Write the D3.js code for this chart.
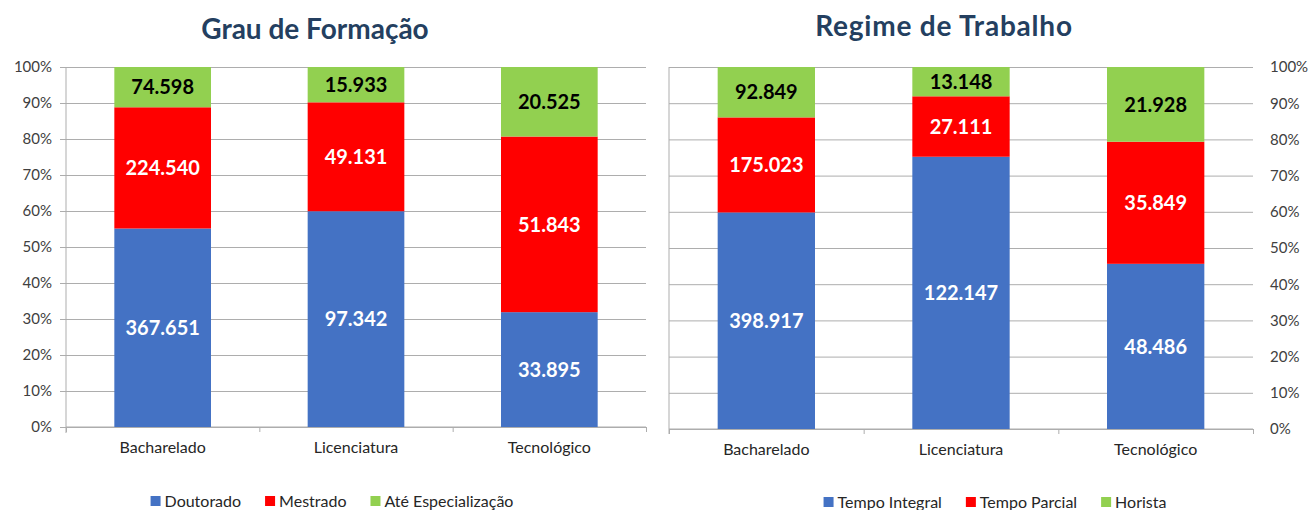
<!DOCTYPE html>
<html>
<head>
<meta charset="utf-8">
<script src="https://cdn.jsdelivr.net/npm/d3@7"></script>
<style>
  html, body { margin: 0; padding: 0; background: #fff; }
  svg { display: block; font-family: Lato, "Open Sans", sans-serif; }
</style>
</head>
<body>
<svg id="chart" width="1314" height="510"></svg>
<script>
// ---- Data ----
const categories = ["Bacharelado", "Licenciatura", "Tecnológico"];
const tickValues = [0, 0.1, 0.2, 0.3, 0.4, 0.5, 0.6, 0.7, 0.8, 0.9, 1.0];

// Grau de Formação
const formacaoTitle = "Grau de Formação";
const formacaoSeries = ["Doutorado", "Mestrado", "Até Especialização"];
const doutorado = [367651, 97342, 33895];
const mestrado = [224540, 49131, 51843];
const ateEspecializacao = [74598, 15933, 20525];

// Regime de Trabalho
const regimeTitle = "Regime de Trabalho";
const regimeSeries = ["Tempo Integral", "Tempo Parcial", "Horista"];
const tempoIntegral = [398917, 122147, 48486];
const tempoParcial = [175023, 27111, 35849];
const horista = [92849, 13148, 21928];

const colors = ["#4472C4", "#FF0000", "#92D050"];
const labelColors = ["#ffffff", "#ffffff", "#000000"];

const locale = d3.formatLocale({decimal: ",", thousands: ".", grouping: [3], currency: ["R$", ""]});
const fmt = locale.format(",d");
const pct = d3.format(".0%");

const svg = d3.select("#chart");

function drawPanel(cfg) {
  const {title, seriesNames, values, x0, x1, yTop, yBottom, axisSide, titleX, titleY, titleSpacing, catY, legendX, legendY} = cfg;
  const g = svg.append("g");

  const rows = categories.map((c, i) => {
    const r = {cat: c};
    seriesNames.forEach((s, j) => r[s] = values[j][i]);
    return r;
  });
  const stacked = d3.stack().keys(seriesNames).offset(d3.stackOffsetExpand)(rows);

  const x = d3.scaleBand().domain(categories).range([x0, x1]).paddingInner(0.5).paddingOuter(0.25);
  const y = d3.scaleLinear().domain([0, 1]).range([yBottom, yTop]);
  const width = x1 - x0;

  // gridlines
  const grid = g.append("g")
    .attr("transform", `translate(${axisSide === "left" ? x0 : x1},0)`)
    .call((axisSide === "left" ? d3.axisLeft(y) : d3.axisRight(y)).tickValues(tickValues).tickSize(-width).tickFormat(""));
  grid.select(".domain").remove();
  grid.selectAll("line").attr("stroke", "#adadad").attr("stroke-width", 1);

  // y axis labels / ticks
  if (axisSide === "left") {
    const ay = g.append("g").attr("transform", `translate(${x0},0)`)
      .call(d3.axisLeft(y).tickValues(tickValues).tickFormat(pct).tickSize(6).tickPadding(8));
    ay.select(".domain").attr("stroke", "#adadad");
    ay.selectAll("line").attr("stroke", "#adadad");
    ay.selectAll("text").attr("fill", "#404040").style("font-size", "15px").style("font-family", "Lato");
    ay.select(".domain").attr("d", `M0,${yTop}V${yBottom + 6}`);
  } else {
    const ay = g.append("g").attr("transform", `translate(${x1},0)`)
      .call(d3.axisRight(y).tickValues(tickValues).tickFormat(pct).tickSize(0).tickPadding(17));
    ay.select(".domain").remove();
    ay.selectAll("text").attr("fill", "#404040").style("font-size", "15px").style("font-family", "Lato");
    g.append("line").attr("x1", x0).attr("x2", x0).attr("y1", yTop).attr("y2", yBottom + 5)
      .attr("stroke", "#adadad");
  }

  // x axis boundary ticks
  const xb = d3.scaleLinear().domain([0, categories.length]).range([x0, x1]);
  const axb = g.append("g").attr("transform", `translate(0,${yBottom})`)
    .call(d3.axisBottom(xb).ticks(categories.length).tickFormat("").tickSize(5));
  axb.select(".domain").attr("stroke", "#adadad").attr("d", `M${x0},0H${x1}`);
  axb.selectAll("line").attr("stroke", "#adadad");

  // category labels
  const axc = g.append("g").attr("transform", `translate(0,${catY})`)
    .call(d3.axisBottom(x).tickSize(0).tickPadding(0));
  axc.select(".domain").remove();
  axc.selectAll("text").attr("fill", "#262626").style("font-size", "16px").style("font-family", "Lato");

  // bars
  const layers = g.append("g").selectAll("g").data(stacked).join("g")
    .attr("fill", (d, i) => colors[i]);
  layers.selectAll("rect").data(d => d).join("rect")
    .attr("x", d => x(d.data.cat))
    .attr("width", x.bandwidth())
    .attr("y", d => y(d[1]))
    .attr("height", d => y(d[0]) - y(d[1]));

  // value labels
  stacked.forEach((layer, i) => {
    g.append("g").selectAll("text").data(layer).join("text")
      .attr("x", d => x(d.data.cat) + x.bandwidth() / 2)
      .attr("y", d => (y(d[0]) + y(d[1])) / 2)
      .attr("dy", "0.36em")
      .attr("text-anchor", "middle")
      .attr("fill", labelColors[i])
      .style("font-size", "20px")
      .style("font-weight", "bold")
      .style("font-family", "Lato")
      .text(d => fmt(d.data[layer.key]));
  });

  // title
  g.append("text").attr("x", titleX).attr("y", titleY).attr("text-anchor", "middle")
    .attr("fill", "#243F60").style("font-size", "28px").style("font-weight", "bold")
    .style("letter-spacing", titleSpacing + "px")
    .style("font-family", "Lato").text(title);

  // legend
  const lg = g.append("g").attr("transform", `translate(0,${legendY})`);
  const items = lg.selectAll("g").data(seriesNames).join("g");
  items.append("rect").attr("width", 10).attr("height", 10).attr("y", -5)
    .attr("fill", (d, i) => colors[i]);
  items.append("text").attr("x", 14).attr("dy", "0.35em")
    .attr("fill", "#262626").style("font-size", "16px").style("font-family", "Lato")
    .text(d => d);
  let widths = [];
  items.each(function() { widths.push(this.getBBox().width); });
  const gap = 24;
  const total = d3.sum(widths) + gap * (widths.length - 1);
  let cx = legendX - total / 2;
  items.each(function(d, i) {
    d3.select(this).attr("transform", `translate(${cx},0)`);
    cx += widths[i] + gap;
  });
}

drawPanel({
  title: formacaoTitle,
  seriesNames: formacaoSeries,
  values: [doutorado, mestrado, ateEspecializacao],
  x0: 66, x1: 646, yTop: 67, yBottom: 427,
  axisSide: "left",
  titleX: 315, titleY: 39, titleSpacing: 0,
  catY: 442, legendX: 332, legendY: 501
});

drawPanel({
  title: regimeTitle,
  seriesNames: regimeSeries,
  values: [tempoIntegral, tempoParcial, horista],
  x0: 669, x1: 1253, yTop: 67, yBottom: 429,
  axisSide: "right",
  titleX: 944, titleY: 36, titleSpacing: 0.8,
  catY: 444, legendX: 995, legendY: 502
});
</script>
</body>
</html>
